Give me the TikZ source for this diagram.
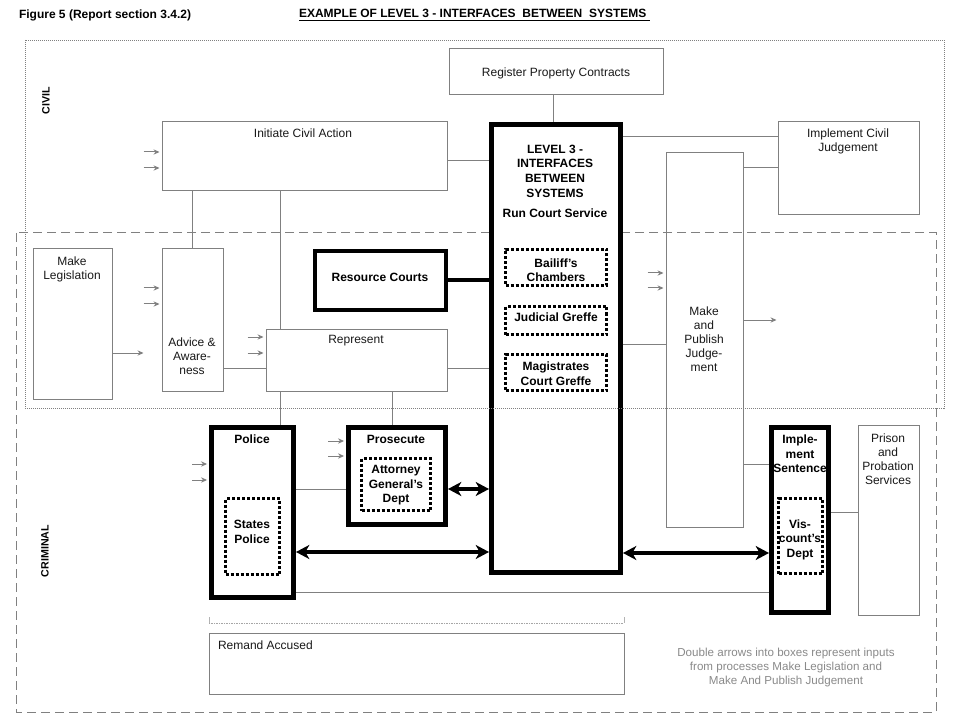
\documentclass[tikz,border=0pt]{standalone}
\usepackage{fontspec}
\setmainfont{Liberation Sans}
\usetikzlibrary{arrows.meta,fit}
\definecolor{ln}{HTML}{808080}
\definecolor{notegray}{HTML}{8A8A8A}
\begin{document}
\begin{tikzpicture}[x=0.75pt,y=-0.75pt,
  txt/.style={font=\fontsize{9}{10.5}\selectfont, text=black!90, align=center, inner sep=0pt, outer sep=0pt},
  btxt/.style={txt, font=\bfseries\fontsize{9}{10.9}\selectfont, text=black},
  thinbox/.style={draw=ln, line width=0.75pt, inner sep=0pt},
  thickbox/.style={draw=black, line width=3.4pt, fill=white, inner sep=0pt},
  dotbox/.style={draw=black, line width=2.25pt, dash pattern=on 2.25pt off 1.5pt, inner sep=0pt},
  conn/.style={draw=ln, line width=0.75pt},
  inarr/.style={conn, -{Stealth[length=4.5pt,width=4pt]}},
  bigarr/.style={draw=black, line width=3pt, {Stealth[length=10pt,width=10.5pt,inset=3pt]}-{Stealth[length=10pt,width=10.5pt,inset=3pt]}},
  thickconn/.style={draw=black, line width=3pt},
  region/.style={draw=ln, line width=0.75pt}
]
\fill[white] (0,0) rectangle (960,720);
\useasboundingbox (0,0) rectangle (960,720);

% header
\node[btxt, anchor=west] (fig) at (19,15) {Figure 5 (Report section 3.4.2)};
\node[btxt, anchor=west] (title) at (299,15) {\underline{EXAMPLE OF LEVEL 3 - INTERFACES\ \ BETWEEN\ \ SYSTEMS\ }};

% criminal region (dashed)
\draw[region, dash pattern=on 7pt off 3.5pt] (16,233) rectangle (936,712);

% thin boxes
\node[thinbox, fit={(449,49) (663,95)}] (rpc) {};
\node[thinbox, fit={(162,122) (447,191)}] (ica) {};
\node[thinbox, fit={(778,122) (919,215)}] (icj) {};
\node[thinbox, fit={(33,249) (112,399)}] (ml) {};
\node[thinbox, fit={(162,249) (223,391)}] (aa) {};
\node[thinbox, fit={(266,329) (447,391)}] (rep) {};
\node[thinbox, fit={(666,153) (743,527)}] (mpj) {};
\node[thinbox, fit={(858,425) (919,615)}] (pps) {};
\node[thinbox, fit={(209,633) (624,694)}] (ra) {};

% thick boxes
\node[thickbox, fit={(491.3,124.3) (620.7,572.7)}] (lvl) {};
\node[thickbox, fit={(315,251) (446,310)}] (rc) {};
\node[thickbox, fit={(211.3,427.3) (293.7,597.7)}] (pol) {};
\node[thickbox, fit={(348.3,427.3) (445.7,524.7)}] (pro) {};
\node[thickbox, fit={(771.3,427.3) (828.7,612.7)}] (is) {};

% dotted boxes
\node[dotbox, fit={(505.5,249.5) (606.5,285.5)}] (bc) {};
\node[dotbox, fit={(505.5,306.5) (606.5,334.5)}] (jg) {};
\node[dotbox, fit={(505.5,354.5) (606.5,390.5)}] (mcg) {};
\node[dotbox, fit={(225.5,498.5) (279.5,574.5)}] (sp) {};
\node[dotbox, fit={(361.5,458.5) (430.5,510.5)}] (agd) {};
\node[dotbox, fit={(778.5,498.5) (822.5,573.5)}] (vd) {};

% civil region (dotted)
\draw[region, line width=0.6pt, dash pattern=on 0.75pt off 0.75pt] (25,40) rectangle (944,408);

% region labels
\node[btxt, font=\bfseries\fontsize{8}{9}\selectfont, rotate=90] (civil) at (46,101) {CIVIL};
\node[btxt, font=\bfseries\fontsize{8}{9}\selectfont, rotate=90] (crim) at (45,551) {CRIMINAL};

% texts
\node[txt] (t-rpc) at (556,73) {Register Property Contracts};
\node[txt] (t-ica) at (303,133) {Initiate Civil Action};
\node[txt] (t-icj) at (848,141) {Implement Civil\\Judgement};
\node[txt] (t-ml) at (72,269) {Make\\Legislation};
\node[txt] (t-aa) at (192,356.5) {Advice \&\\Aware-\\ness};
\node[txt] (t-rep) at (356,341) {Represent};
\node[txt] (t-mpj) at (704,339.5) {Make\\and\\Publish\\Judge-\\ment};
\node[txt] (t-pps) at (888,459) {Prison\\and\\Probation\\Services};
\node[txt, anchor=west] (t-ra) at (218,645) {Remand Accused};

\node[btxt, font=\bfseries\fontsize{9}{11}\selectfont] (t-lvl) at (555,171) {LEVEL 3 -\\INTERFACES\\BETWEEN\\SYSTEMS};
\node[btxt] (t-rcs) at (555,213) {Run Court Service};
\node[btxt] (t-rc) at (380,277) {Resource Courts};
\node[btxt] (t-bc) at (556,270) {Bailiff's\\Chambers};
\node[btxt] (t-jg) at (556,317) {Judicial Greffe};
\node[btxt] (t-mcg) at (556,373.5) {Magistrates\\Court Greffe};
\node[btxt] (t-pol) at (252,439) {Police};
\node[btxt] (t-sp) at (252,532) {States\\Police};
\node[btxt] (t-pro) at (396,439) {Prosecute};
\node[btxt] (t-agd) at (396,485.5) {Attorney\\General's\\Dept};
\node[btxt] (t-is) at (800,454) {Imple-\\ment\\Sentence};
\node[btxt] (t-vd) at (800,539.5) {Vis-\\count's\\Dept};

\node[txt, text=notegray, font=\fontsize{8.7}{10.5}\selectfont] (note) at (786,667) {Double arrows into boxes represent inputs\\from processes Make Legislation and\\Make And Publish Judgement};

% connectors
\draw[conn] (rpc.south -| 553,0) -- (lvl.north -| 553,0);
\draw[conn] (ica.east |- 0,161) -- (lvl.west |- 0,161);
\draw[conn] (lvl.east |- 0,137) -- (icj.west |- 0,137);
\draw[conn] (mpj.east |- 0,168) -- (icj.west |- 0,168);
\draw[conn] (ica.south -| 192,0) -- (aa.north -| 192,0);
\draw[conn] (ica.south -| 280,0) -- (rep.north -| 280,0);
\draw[conn] (rep.south -| 280,0) -- (pol.north -| 280,0);
\draw[conn] (rep.south -| 392,0) -- (pro.north -| 392,0);
\draw[conn] (aa.east |- 0,368) -- (rep.west |- 0,368);
\draw[conn] (rep.east |- 0,368) -- (lvl.west |- 0,368);
\draw[thickconn] (rc.east |- 0,280) -- (lvl.west |- 0,280);
\draw[conn] (lvl.east |- 0,344) -- (mpj.west |- 0,344);
\draw[conn] (mpj.east |- 0,464) -- (is.west |- 0,464);
\draw[conn] (is.east |- 0,512) -- (pps.west |- 0,512);
\draw[conn] (pol.east |- 0,489) -- (pro.west |- 0,489);
\draw[conn] (pol.east |- 0,592) -- (is.west |- 0,592);
\draw[bigarr] (pro.east |- 0,489) -- (lvl.west |- 0,489);
\draw[bigarr] (pol.east |- 0,552) -- (lvl.west |- 0,552);
\draw[bigarr] (lvl.east |- 0,553) -- (is.west |- 0,553);

% input arrows
\draw[inarr] (ica.west |- 0,152) ++(-18,0) -- ++(16,0);
\draw[inarr] (ica.west |- 0,168) ++(-18,0) -- ++(16,0);
\draw[inarr] (aa.west |- 0,288) ++(-18,0) -- ++(16,0);
\draw[inarr] (aa.west |- 0,304) ++(-18,0) -- ++(16,0);
\draw[inarr] (rep.west |- 0,337) ++(-18,0) -- ++(16,0);
\draw[inarr] (rep.west |- 0,353) ++(-18,0) -- ++(16,0);
\draw[inarr] (mpj.west |- 0,273) ++(-18,0) -- ++(16,0);
\draw[inarr] (mpj.west |- 0,288) ++(-18,0) -- ++(16,0);
\draw[inarr] (pol.west |- 0,464) ++(-17,0) -- ++(15,0);
\draw[inarr] (pol.west |- 0,480) ++(-17,0) -- ++(15,0);
\draw[inarr] (pro.west |- 0,441) ++(-18,0) -- ++(16,0);
\draw[inarr] (pro.west |- 0,456) ++(-18,0) -- ++(16,0);
% output arrows
\draw[inarr] (ml.east |- 0,353) -- ++(31,0);
\draw[inarr] (mpj.east |- 0,320) -- ++(33,0);

% bracket over Remand Accused
\draw[draw=ln!70, line width=0.75pt, dash pattern=on 0.75pt off 0.5pt] (209,623) -- (624,623);
\draw[draw=ln!60, line width=0.75pt] (209,617) -- (209,623);
\draw[draw=ln!60, line width=0.75pt] (624,617) -- (624,623);
\end{tikzpicture}
\end{document}
